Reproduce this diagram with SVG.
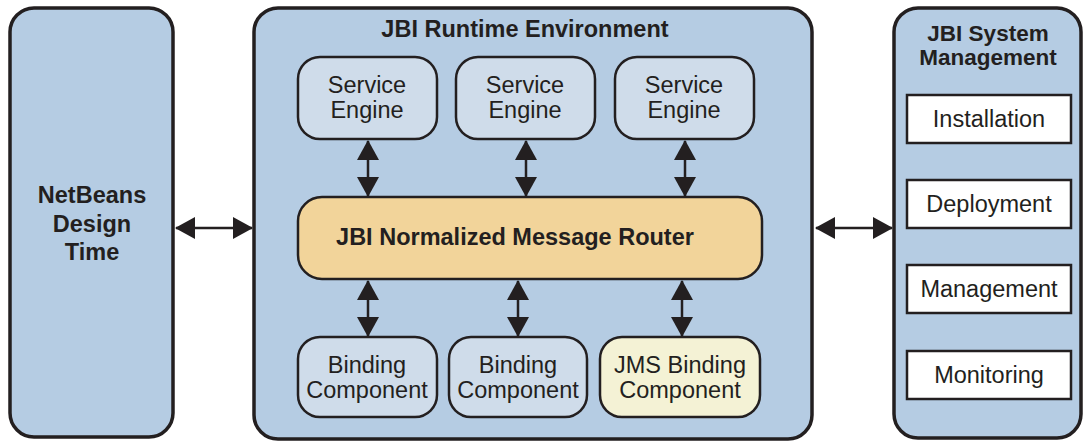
<svg xmlns="http://www.w3.org/2000/svg" width="1086" height="441" viewBox="0 0 1086 441">
<defs>
<style>
.outer{fill:#b5cce3;stroke:#231f20;stroke-width:3.5}
.inner{fill:#cfdcea;stroke:#231f20;stroke-width:2.5}
.jms{fill:#f4f2d5;stroke:#231f20;stroke-width:2.5}
.router{fill:#f2d49a;stroke:#231f20;stroke-width:2.5}
.wbox{fill:#ffffff;stroke:#231f20;stroke-width:2.5}
.b{font-family:"Liberation Sans",Arial,sans-serif;font-weight:bold;fill:#231f20;text-anchor:middle}
.r{font-family:"Liberation Sans",Arial,sans-serif;fill:#231f20;text-anchor:middle}
.conn{stroke:#231f20;stroke-width:2.5;fill:none;marker-start:url(#ah);marker-end:url(#ah)}
</style>
<marker id="ah" viewBox="0 0 20 22" refX="19" refY="11" markerWidth="20" markerHeight="22" markerUnits="userSpaceOnUse" orient="auto-start-reverse">
<path d="M0,0 L20,11 L0,22 Z" fill="#231f20"/>
</marker>
</defs>
<g id="netbeans">
<rect class="outer" x="10" y="8" width="163" height="429" rx="24"/>
<text class="b" font-size="23.5" x="92" y="203">NetBeans</text>
<text class="b" font-size="23.5" x="92" y="232">Design</text>
<text class="b" font-size="23.5" x="92" y="260">Time</text>
</g>
<g id="runtime">
<rect class="outer" x="254" y="8" width="558" height="431" rx="24"/>
<text class="b" font-size="23.5" x="525" y="37">JBI Runtime Environment</text>
</g>
<g id="se1">
<rect class="inner" x="298" y="57" width="139" height="82" rx="22"/>
<text class="r" font-size="23.5" x="367" y="93">Service</text>
<text class="r" font-size="23.5" x="367" y="118">Engine</text>
</g>
<g id="se2">
<rect class="inner" x="456" y="57" width="139" height="82" rx="22"/>
<text class="r" font-size="23.5" x="525" y="93">Service</text>
<text class="r" font-size="23.5" x="525" y="118">Engine</text>
</g>
<g id="se3">
<rect class="inner" x="615" y="57" width="139" height="82" rx="22"/>
<text class="r" font-size="23.5" x="684" y="93">Service</text>
<text class="r" font-size="23.5" x="684" y="118">Engine</text>
</g>
<g id="router">
<rect class="router" x="298" y="197" width="464" height="82" rx="24"/>
<text class="b" font-size="23.5" x="515" y="245">JBI Normalized Message Router</text>
</g>
<g id="bc1">
<rect class="inner" x="298" y="337" width="139" height="80" rx="22"/>
<text class="r" font-size="23.5" x="367" y="373">Binding</text>
<text class="r" font-size="23.5" x="367" y="398">Component</text>
</g>
<g id="bc2">
<rect class="inner" x="449" y="337" width="138" height="80" rx="22"/>
<text class="r" font-size="23.5" x="518" y="373">Binding</text>
<text class="r" font-size="23.5" x="518" y="398">Component</text>
</g>
<g id="jms">
<rect class="jms" x="600" y="337" width="160" height="80" rx="22"/>
<text class="r" font-size="23.5" x="680" y="373">JMS Binding</text>
<text class="r" font-size="23.5" x="680" y="398">Component</text>
</g>
<g id="sysmgmt">
<rect class="outer" x="894" y="8" width="187" height="430" rx="24"/>
<text class="b" font-size="22.5" x="988" y="41">JBI System</text>
<text class="b" font-size="22.5" x="988" y="65">Management</text>
</g>
<g id="installation">
<rect class="wbox" x="907" y="95" width="164" height="48"/>
<text class="r" font-size="23.5" x="989" y="127">Installation</text>
</g>
<g id="deployment">
<rect class="wbox" x="907" y="180" width="164" height="48"/>
<text class="r" font-size="23.5" x="989" y="212">Deployment</text>
</g>
<g id="management">
<rect class="wbox" x="907" y="265" width="164" height="48"/>
<text class="r" font-size="23.5" x="989" y="297">Management</text>
</g>
<g id="monitoring">
<rect class="wbox" x="907" y="351" width="164" height="48"/>
<text class="r" font-size="23.5" x="989" y="383">Monitoring</text>
</g>
<g id="connectors">
<line class="conn" x1="176" y1="228" x2="252" y2="228"/>
<line class="conn" x1="816" y1="228" x2="892" y2="228"/>
<line class="conn" x1="368" y1="141" x2="368" y2="196"/>
<line class="conn" x1="526" y1="141" x2="526" y2="196"/>
<line class="conn" x1="685" y1="141" x2="685" y2="196"/>
<line class="conn" x1="368" y1="281" x2="368" y2="336"/>
<line class="conn" x1="518" y1="281" x2="518" y2="336"/>
<line class="conn" x1="682" y1="281" x2="682" y2="336"/>
</g>
</svg>
